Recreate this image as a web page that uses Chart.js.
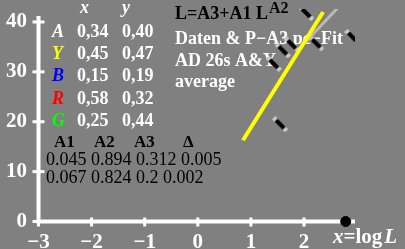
<!DOCTYPE html>
<html>
<head>
<meta charset="utf-8">
<script src="https://cdn.jsdelivr.net/npm/chart.js@4"></script>
<style>
  html, body { margin: 0; padding: 0; background: #808080; overflow: hidden; }
  canvas { display: block; }
</style>
</head>
<body>
<canvas id="chart" width="405" height="249"></canvas>
<script>
// values
const xTicks = [-3, -2, -1, 0, 1, 2];
const yTicks = [0, 10, 20, 30, 40];
const fitYellow = [{ x: 0.85, y: 16.3 }, { x: 2.36, y: 42.0 }];
const fitGray = [{ x: 2.02, y: 35.9 }, { x: 2.65, y: 43.0 }];
const markX = [2.04, 2.91, 1.60, 1.77, 1.43, 2.23, 1.55];
const markY = [41.8, 37.0, 34.3, 35.5, 31.6, 35.7, 19.5];
const endPoint = [{ x: 2.785, y: 0 }];

const rowNames = ['A', 'Y', 'B', 'R', 'G'];
const rowColors = ['#ffffff', '#ffff00', '#0000ff', '#ff0000', '#00ff00'];
const rowX = ['0,34', '0,45', '0,15', '0,58', '0,25'];
const rowY = ['0,40', '0,47', '0,19', '0,32', '0,44'];
const coefHead = ['A1', 'A2', 'A3', 'Δ'];
const coefRows = [['0.045', '0.894', '0.312', '0.005'], ['0.067', '0.824', '0.2', '0.002']];
const notes = ['Daten & P−A3 pc−Fit', 'AD 26s A&Y', 'average'];

const serif = '"Liberation Serif", "DejaVu Serif", serif';

// little two-tone dash used for the measured points
const mark = document.createElement('canvas');
mark.width = 16; mark.height = 16;
const mc = mark.getContext('2d');
mc.strokeStyle = '#c8c8c8'; mc.lineWidth = 4.5;
mc.beginPath(); mc.moveTo(1.5, 1.5); mc.lineTo(14.5, 14.5); mc.stroke();
mc.strokeStyle = '#000'; mc.lineWidth = 4.5;
mc.beginPath(); mc.moveTo(4, 4); mc.lineTo(12, 12); mc.stroke();

const noPad = s => { s.paddingTop = 0; s.paddingBottom = 0; s.paddingLeft = 0; s.paddingRight = 0; };

const backdrop = {
  id: 'backdrop',
  beforeDraw(chart) {
    const c = chart.ctx;
    c.save();
    c.fillStyle = '#808080';
    c.fillRect(0, 0, chart.width, chart.height);
    c.restore();
  },
  beforeDatasetsDraw(chart) {
    const c = chart.ctx;
    const xs = chart.scales.x, ys = chart.scales.y;
    const x0 = xs.getPixelForValue(-3), y0 = ys.getPixelForValue(0);
    c.save();
    c.strokeStyle = '#fff';
    c.lineWidth = 4;
    c.beginPath();
    c.moveTo(x0, ys.getPixelForValue(41.2));
    c.lineTo(x0, y0);
    c.lineTo(xs.getPixelForValue(2.96), y0);
    c.stroke();
    c.lineWidth = 3;
    xTicks.forEach(v => {
      const p = xs.getPixelForValue(v);
      c.beginPath(); c.moveTo(p, y0 - 4); c.lineTo(p, y0 + 5); c.stroke();
    });
    yTicks.forEach(v => {
      const p = ys.getPixelForValue(v);
      c.beginPath(); c.moveTo(x0 - 6, p); c.lineTo(x0 + 6, p); c.stroke();
    });

    // table of chromaticities
    c.textBaseline = 'alphabetic';
    c.font = 'italic bold 18px ' + serif;
    c.fillStyle = '#fff';
    c.fillText('x', 80, 13);
    c.fillText('y', 122, 13);
    rowNames.forEach((n, i) => {
      const b = 37 + i * 22.2;
      c.font = 'italic bold 18px ' + serif;
      c.fillStyle = rowColors[i];
      c.fillText(n, 52, b);
      c.font = 'bold 18px ' + serif;
      c.fillStyle = '#fff';
      c.fillText(rowX[i], 77, b);
      c.fillText(rowY[i], 122, b);
    });

    c.fillStyle = '#000';
    c.font = 'bold 17px ' + serif;
    [54, 94, 134, 183].forEach((px, i) => c.fillText(coefHead[i], px, 147));
    c.font = '18px ' + serif;
    coefRows.forEach((r, i) => c.fillText(r.join(' '), 46, 165 + i * 18));

    c.font = 'bold 18px ' + serif;
    c.fillText('L=A3+A1 L', 175, 19);
    c.font = 'bold 16px ' + serif;
    c.fillText('A2', 269, 13);
    c.fillStyle = '#fff';
    c.font = 'bold 18px ' + serif;
    notes.forEach((t, i) => c.fillText(t, 175, 44 + i * 21.5));

    // axis name
    let px = 333;
    [['x', 'italic bold'], ['=log', 'bold'], ['L', 'italic bold']].forEach(([t, f]) => {
      c.font = f + ' 21px ' + serif;
      c.fillText(t, px, 243);
      px += c.measureText(t).width + (t === '=log' ? 2 : 0);
    });
    c.restore();
  }
};

new Chart(document.getElementById('chart').getContext('2d'), {
  type: 'scatter',
  plugins: [backdrop],
  data: {
    datasets: [
      {
        type: 'line', data: fitYellow, borderColor: '#ffff00', borderWidth: 4,
        pointRadius: 0, fill: false
      },
      {
        data: markX.map((x, i) => ({ x, y: markY[i] })),
        pointStyle: mark, pointRadius: 8
      },
      {
        type: 'line', data: fitGray, borderColor: '#b8b8b8', borderWidth: 3,
        pointRadius: 0, fill: false
      },
      {
        data: endPoint, pointRadius: 5, backgroundColor: '#000', borderColor: '#000',
        clip: false
      }
    ]
  },
  options: {
    responsive: false,
    animation: false,
    devicePixelRatio: 1,
    layout: { padding: { top: 0, right: 50, left: 0, bottom: 0 } },
    plugins: { legend: { display: false }, tooltip: { enabled: false } },
    scales: {
      x: {
        type: 'linear', min: -3, max: 2.96,
        grid: { display: false, drawTicks: false },
        border: { display: false },
        afterFit: s => { s.height = 27.5; noPad(s); },
        ticks: {
          stepSize: 1, includeBounds: false, padding: 8, color: '#fff',
          font: { family: serif, size: 21, weight: 'bold' },
          callback: v => String(v).replace('-', '−')
        }
      },
      y: {
        type: 'linear', min: 0, max: 42.6,
        grid: { display: false, drawTicks: false },
        border: { display: false },
        afterFit: s => { s.width = 38.5; noPad(s); },
        ticks: {
          stepSize: 10, includeBounds: false, padding: 11.5, color: '#fff',
          font: { family: serif, size: 21, weight: 'bold' }
        }
      }
    }
  }
});
</script>
</body>
</html>
